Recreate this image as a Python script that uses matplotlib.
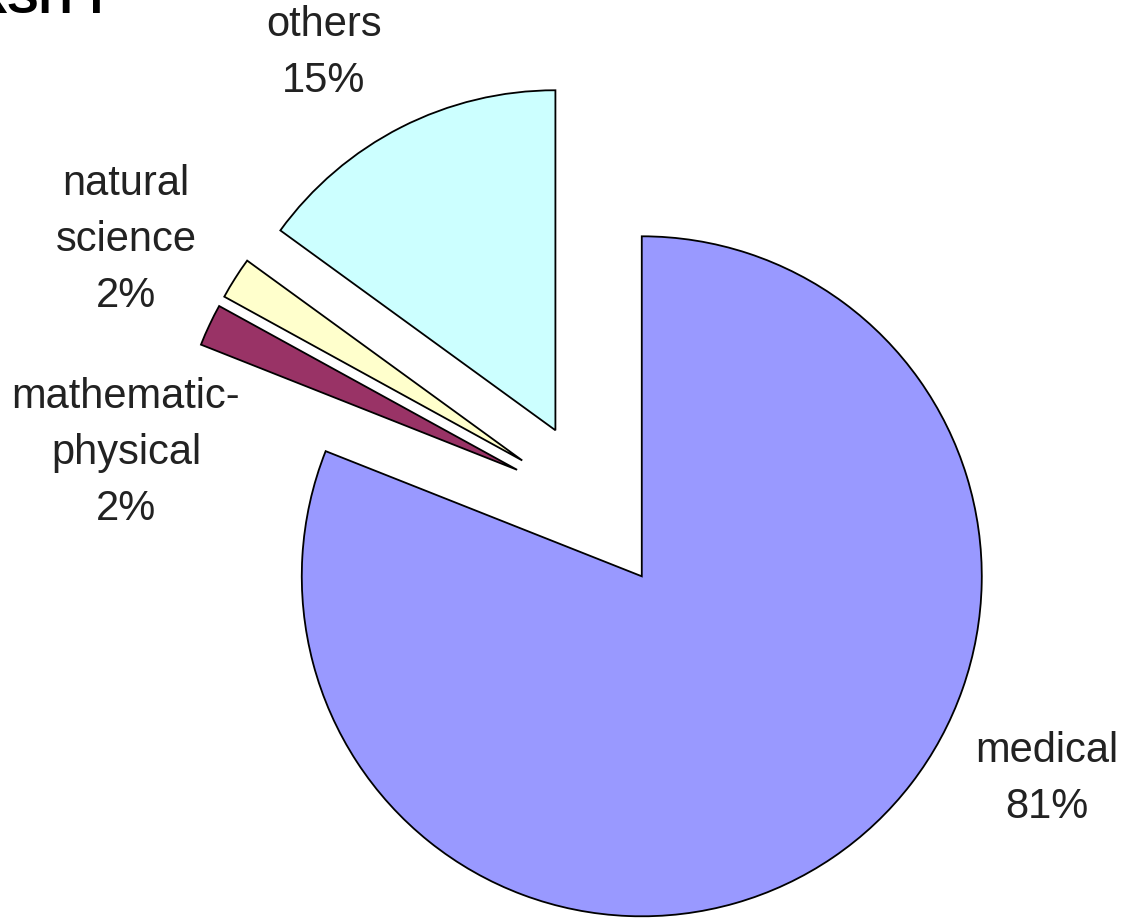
import matplotlib
matplotlib.use("Agg")
import matplotlib.pyplot as plt

# Share of fields
categories = ["medical", "mathematic-\nphysical", "natural\nscience", "others"]
shares = [81, 2, 2, 15]
colors = ["#9999FF", "#993366", "#FFFFCC", "#CCFFFF"]

W, H = 1139, 921
fig = plt.figure(figsize=(W / 100, H / 100), dpi=100)
ax = fig.add_axes([0, 0, 1, 1])

radius = 340
center = (594, H - 506)
# every slice pulled out from the centre by the same distance (data units)
ax.pie(shares, colors=colors, explode=[85] * len(shares), startangle=90,
       counterclock=False, radius=radius, center=center,
       wedgeprops=dict(edgecolor="black", linewidth=1.3), frame=True)
ax.set_xlim(0, W)
ax.set_ylim(0, H)
ax.set_aspect("equal")
ax.axis("off")

# Slice labels (x centre, baseline of the percentage line)
label_pos = {
    "medical": (1047, H - 818),
    "mathematic-\nphysical": (126, H - 520),
    "natural\nscience": (126, H - 307),
    "others": (324, H - 92),
}
for name, val in zip(categories, shares):
    x, y = label_pos[name]
    ax.text(x, y, f"{name}\n{val}%", ha="center", va="baseline",
            multialignment="center", fontsize=30, family="Liberation Sans",
            color="#222222", linespacing=1.52)

# Heading (runs off the top edge)
fig.text(113 / W, 1 - 13 / H, "RSITY", ha="right", va="baseline",
         fontsize=34, fontweight="bold", family="Liberation Sans", color="black")

fig.savefig("out.png", dpi=100, facecolor="white")
